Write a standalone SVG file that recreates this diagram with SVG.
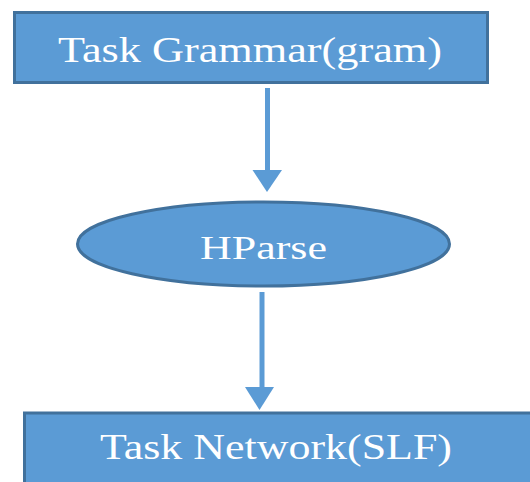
<svg xmlns="http://www.w3.org/2000/svg" width="530" height="482" viewBox="0 0 530 482">
<style>
.node{fill:#5B9BD5;stroke:#41719C;stroke-width:3}
.lbl{font-family:"Liberation Serif","Times New Roman",serif;fill:#FFFFFF;lengthAdjust:spacingAndGlyphs}
.shaft{stroke:#5B9BD5;stroke-width:5;fill:none}
.head{fill:#5B9BD5}
</style>
<rect width="530" height="482" fill="#FFFFFF"/>
<g id="connectors">
<line class="shaft" x1="267.5" y1="88" x2="267.5" y2="172"/>
<polygon class="head" points="252.5,170 282,170 267,192"/>
<line class="shaft" x1="262" y1="292" x2="262" y2="389"/>
<polygon class="head" points="245,387 274,387 259.5,410"/>
</g>
<g id="task-grammar">
<rect class="node" x="14.5" y="12.5" width="473" height="70"/>
<text class="lbl" x="58" y="61.5" font-size="36" textLength="384" lengthAdjust="spacingAndGlyphs">Task Grammar(gram)</text>
</g>
<g id="hparse">
<ellipse class="node" cx="263.5" cy="244" rx="186" ry="42"/>
<text class="lbl" x="200" y="258.5" font-size="33" textLength="127" lengthAdjust="spacingAndGlyphs">HParse</text>
</g>
<g id="task-network">
<rect class="node" x="24.5" y="413" width="520" height="80"/>
<text class="lbl" x="100" y="458.5" font-size="35" textLength="352" lengthAdjust="spacingAndGlyphs">Task Network(SLF)</text>
</g>
</svg>
